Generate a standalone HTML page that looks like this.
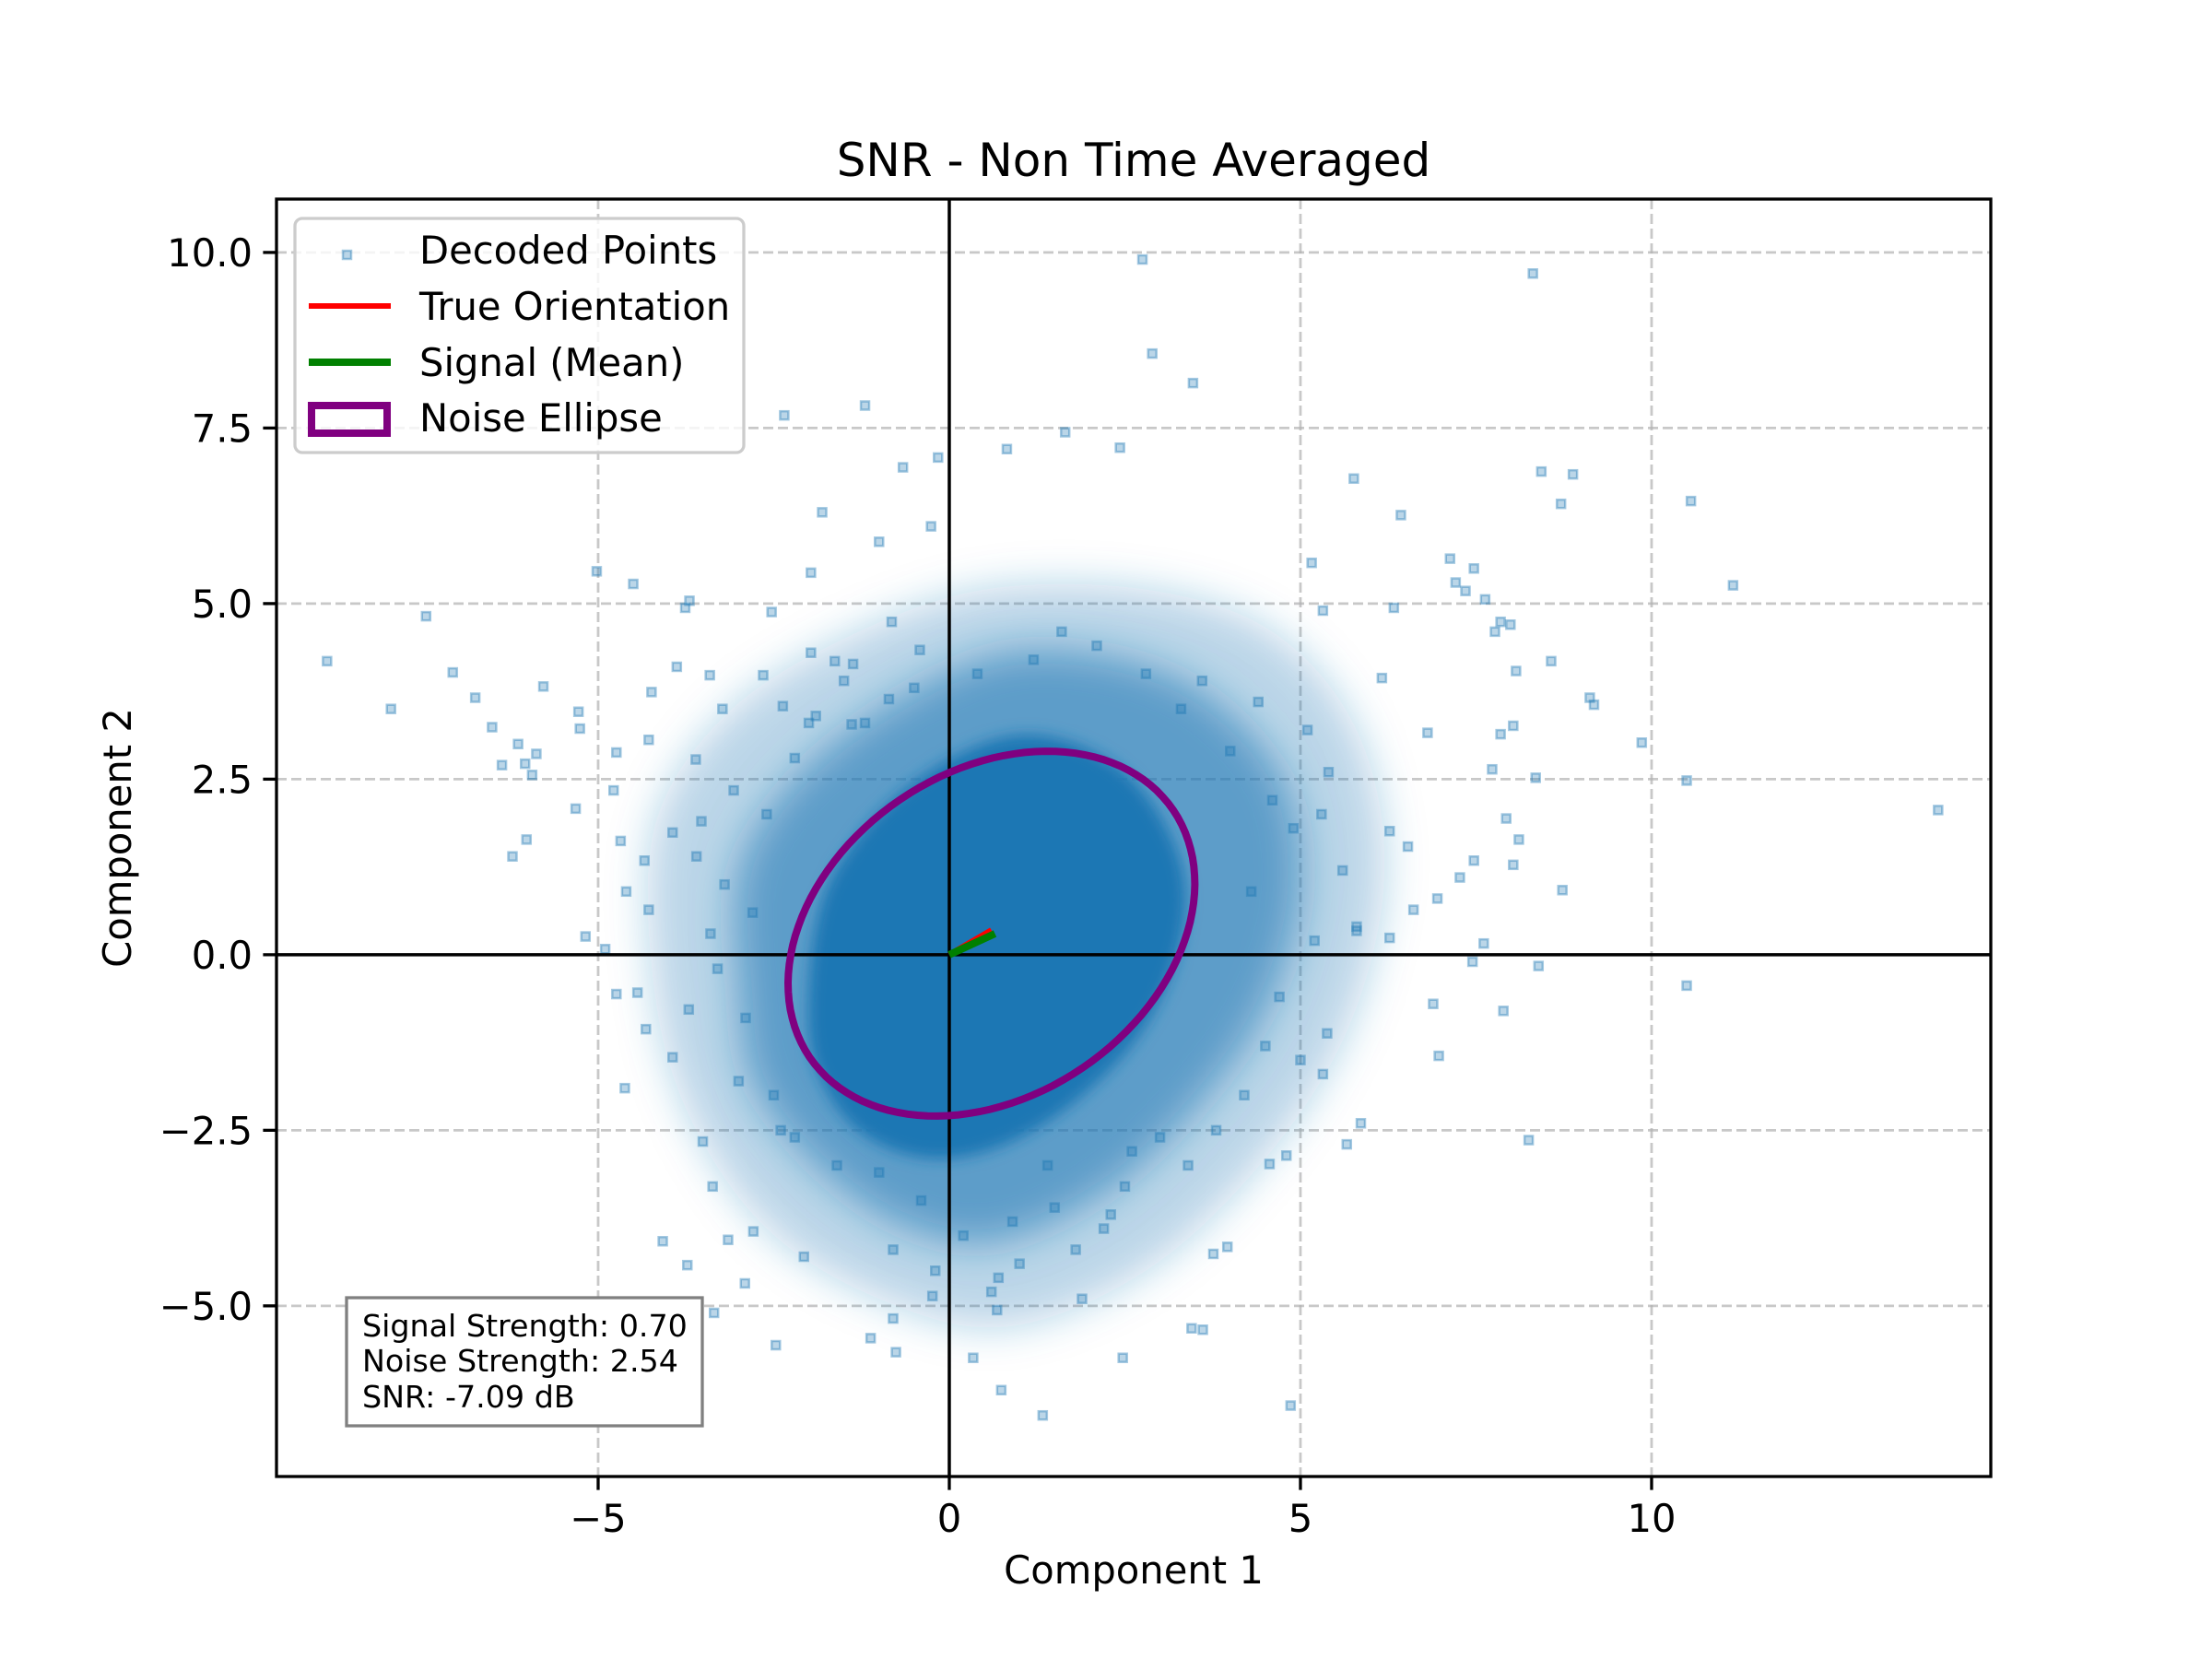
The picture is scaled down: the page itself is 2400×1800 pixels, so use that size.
<!DOCTYPE html>
<html><head><meta charset="utf-8">
<style>
html,body{margin:0;padding:0;background:#fff;}
svg{display:block;font-family:"DejaVu Sans","Liberation Sans",sans-serif;}
</style></head>
<body>
<svg id="chart" width="2400" height="1800" viewBox="0 0 2400 1800" xmlns="http://www.w3.org/2000/svg">
<rect width="2400" height="1800" fill="#fff"/>
<g id="plot"></g>
</svg>
<script>
const xTicks = [-5, 0, 5, 10];
const yTicks = [-5, -2.5, 0, 2.5, 5, 7.5, 10];
const xTickLabels = ["\u22125", "0", "5", "10"];
const yTickLabels = ["\u22125.0", "\u22122.5", "0.0", "2.5", "5.0", "7.5", "10.0"];
const xDomain = [-9.58, 14.83];
const yDomain = [-7.43, 10.76];
const outlierX = [-8.86,-7.45,-7.95,-7.07,-6.75,-6.51,-6.37,-6.14,-6.04,-5.88,-5.78,-6.02,-6.22,-5.94,-5.32,-5.28,-5.26,-5.02,-4.5,-3.76,-3.7,-2.35,-1.2,-1.81,-1.97,-2.53,-1.0,-0.66,-0.16,-0.26,2.75,8.31,2.89,3.47,0.82,1.65,2.43,8.88,8.43,8.71,10.56,11.16,5.76,6.43,7.99,8.57,9.12,9.18,9.86,10.5,14.08,8.73,8.39,10.5,8.25,7.89,7.45,6.97,5.86,5.66,4.86,1.33,0.74,2.47,3.45,-2.47,-3.35,-4.08,-4.62,-4.74,-4.9,-5.18,8.11,8.03,8.35,7.93,7.61,6.89,6.95,7.27,7.47,7.73,7.85,8.03,8.07,7.77,7.85,7.21,7.47,7.13,7.35,7.63,5.16,6.33,6.16,5.32,6.81,6.27,6.53,6.61,5.8,6.27,5.38,5.32,4.56,4.8,3.96,3.76,3.61,1.89,0.68,0.34,-0.24,-0.8,-1.12,-0.76,-2.07,-2.79,-2.91,-3.15,-3.73,-3.37,-3.51,-3.71,-3.94,-4.32,-4.44,-4.28,-4.6,-4.34,-4.68,-4.78,-4.74,-4.28,-4.24,-3.88,-3.41,-3.23,-3.61,-3.07,-3.53,-3.94,-2.65,-2.37,-1.97,-1.63,-1.37,-0.82,-0.42,-1.39,-0.86];
const outlierY = [4.18,4.82,3.5,4.02,3.66,3.24,2.7,3.0,2.72,2.86,3.82,1.64,1.4,2.56,2.08,3.46,3.22,5.46,5.28,4.94,5.04,7.68,7.82,6.3,5.44,4.88,5.88,6.94,7.08,6.1,9.9,9.7,8.56,8.14,7.2,7.44,7.22,6.84,6.88,6.42,6.46,5.26,6.78,6.26,4.7,4.18,3.66,3.56,3.02,2.48,2.06,0.92,-0.16,-0.44,-2.64,-0.8,-0.1,-1.44,-2.4,-2.7,-6.42,-6.56,-6.2,-5.74,-5.32,-5.56,-5.1,-4.08,-1.9,-0.56,0.08,0.26,1.64,1.28,2.52,1.94,0.16,-0.7,0.8,1.1,1.34,2.64,3.14,3.26,4.04,4.6,4.74,5.3,5.5,5.64,5.18,5.06,5.58,4.94,3.94,4.9,3.16,1.76,1.54,0.64,0.34,0.24,-1.12,-1.7,-2.98,-2.86,-4.16,-4.26,-5.34,-4.9,-5.06,-5.74,-4.86,-5.18,-5.46,-5.66,-4.3,-3.94,-4.68,-4.06,-4.42,-3.3,-2.66,-0.78,-1.46,-1.06,-0.54,0.64,0.9,1.34,1.62,2.34,2.88,3.06,3.74,4.1,3.98,3.5,2.78,2.34,1.9,1.74,3.98,3.54,4.3,4.18,4.14,4.74,4.34,3.28,3.64];
const ringX = [-3.2,-2.9,-3.4,-2.6,-3.0,-2.4,-3.6,-2.2,-2.8,-3.3,4.9,5.2,5.4,4.7,5.6,5.1,4.4,5.8,5.0,4.6,1.2,2.1,0.4,2.8,-0.5,1.6,3.3,-1.2,0.9,2.5,1.0,0.2,1.8,-0.4,2.6,0.6,1.4,-1.0,3.0,2.2,-2.2,-1.6,-2.5,-1.9,4.2,3.8,4.5,3.6,4.0,-0.2,0.7,1.5,-0.8,2.3,3.4,-2.0,4.3,-1.5,5.3];
const ringY = [1.0,-0.9,0.3,2.0,-1.8,-2.5,1.4,2.8,0.6,-0.2,1.8,0.2,2.6,-0.6,1.2,3.2,3.6,0.4,-1.5,2.2,4.2,4.4,4.0,4.0,3.8,4.6,3.5,3.3,-3.8,-3.3,-4.4,-4.0,-4.2,-3.5,-2.8,-4.8,-3.0,-3.1,-2.6,-3.9,-2.6,-3.0,-2.0,3.4,-2.0,-2.5,-1.3,3.9,2.9,-4.5,-4.6,-3.6,-4.2,-3.7,-3.0,3.3,0.9,3.9,2.0];
const coreX = [-2.0,-1.8,-1.2,-0.3,0.8,1.8,2.7,3.3,3.3,2.8,1.9,0.8,-0.3,-1.3,-1.9];
const coreY = [-0.5,0.8,1.8,2.6,3.1,3.0,2.4,1.3,0.2,-1.0,-2.0,-2.7,-2.9,-2.5,-1.6];
const halo1X = [-3.0,-3.0,-2.2,-0.8,0.8,2.5,3.8,4.8,5.0,4.5,3.5,2.2,0.6,-0.8,-2.0,-2.8];
const halo1Y = [-0.5,1.2,2.5,3.6,4.3,4.2,3.6,2.4,0.8,-0.8,-2.2,-3.4,-4.1,-3.8,-2.9,-1.8];
const halo2X = [-4.2,-4.2,-3.2,-1.5,0.5,2.8,4.6,5.8,6.2,5.7,4.5,2.8,0.8,-1.0,-2.6,-3.7];
const halo2Y = [-0.5,1.8,3.4,4.5,5.2,5.2,4.6,3.2,1.2,-1.0,-2.9,-4.5,-5.3,-4.9,-3.9,-2.3];
const ellipseCenter = [0.6, 0.3];
const ellipseAxes = [3.13, 2.31];
const ellipseAngleDeg = [34.2];
const trueOrientation = [0.6, 0.35];
const signalMean = [0.65, 0.3];

const L=300,R=2160,T=216,B=1602;
const sx=v=>L+(v-xDomain[0])/(xDomain[1]-xDomain[0])*(R-L);
const sy=v=>B-(v-yDomain[0])/(yDomain[1]-yDomain[0])*(B-T);
const NS="http://www.w3.org/2000/svg";
const plot=document.getElementById('plot');
function mk(tag,attrs,parent){const e=document.createElementNS(NS,tag);for(const k in attrs)e.setAttribute(k,attrs[k]);(parent||plot).appendChild(e);return e;}

const defs=mk('defs',{});
const cp=mk('clipPath',{id:'clip'},defs);
mk('rect',{x:L,y:T,width:R-L,height:B-T},cp);
const f1=mk('filter',{id:'blurA',x:'-20%',y:'-20%',width:'140%',height:'140%'},defs);
mk('feGaussianBlur',{stdDeviation:22},f1);
const f2=mk('filter',{id:'blurB',x:'-20%',y:'-20%',width:'140%',height:'140%'},defs);
mk('feGaussianBlur',{stdDeviation:8},f2);

// grid
const grid=mk('g',{});


xTicks.forEach(t=>{const l=mk('line',{x1:sx(t),x2:sx(t),y1:T,y2:B,stroke:'#b0b0b0','stroke-opacity':0.7,'stroke-width':2.8,'stroke-dasharray':'11,5'},grid);
});
yTicks.forEach(t=>{const l=mk('line',{x1:L,x2:R,y1:sy(t),y2:sy(t),stroke:'#b0b0b0','stroke-opacity':0.7,'stroke-width':2.8,'stroke-dasharray':'11,5'},grid);
});

const data=mk('g',{'clip-path':'url(#clip)'});


function smooth(xs,ys){const P=xs.map((x,i)=>[sx(x),sy(ys[i])]);const n=P.length;let d='M'+P[0][0].toFixed(1)+','+P[0][1].toFixed(1);
for(let i=0;i<n;i++){const p0=P[(i-1+n)%n],p1=P[i],p2=P[(i+1)%n],p3=P[(i+2)%n];
const c1=[p1[0]+(p2[0]-p0[0])/6,p1[1]+(p2[1]-p0[1])/6],c2=[p2[0]-(p3[0]-p1[0])/6,p2[1]-(p3[1]-p1[1])/6];
d+='C'+c1.map(v=>v.toFixed(1)).join(',')+' '+c2.map(v=>v.toFixed(1)).join(',')+' '+p2.map(v=>v.toFixed(1)).join(',');}return d+'Z';}
function blob(xs,ys,op,name,filt){const p=mk('path',{d:smooth(xs,ys),fill:'#1f77b4','fill-opacity':op,filter:'url(#'+filt+')'},data);
}
blob(halo2X,halo2Y,0.3,'density-halo-outer','blurA');
blob(halo1X,halo1Y,0.6,'density-halo-inner','blurA');
blob(coreX,coreY,1,'density-core','blurB');

const pts=mk('g',{},data);


function pt(x,y){const r=mk('rect',{x:sx(x)-4.5,y:sy(y)-4.5,width:9,height:9,fill:'#1f77b4','fill-opacity':0.3,stroke:'#1f77b4','stroke-opacity':0.4,'stroke-width':2.5},pts);
}
outlierX.forEach((x,i)=>pt(x,outlierY[i]));
ringX.forEach((x,i)=>pt(x,ringY[i]));

// zero lines
const zx=mk('line',{x1:sx(0),x2:sx(0),y1:T,y2:B,stroke:'#000','stroke-width':3.5},data);

const zy=mk('line',{x1:L,x2:R,y1:sy(0),y2:sy(0),stroke:'#000','stroke-width':3.5},data);


// ellipse
const th=ellipseAngleDeg[0]*Math.PI/180;let d='';
for(let i=0;i<=120;i++){const t=i/120*2*Math.PI;const ex=ellipseAxes[0]*Math.cos(t),ey=ellipseAxes[1]*Math.sin(t);
const X=ellipseCenter[0]+ex*Math.cos(th)-ey*Math.sin(th),Y=ellipseCenter[1]+ex*Math.sin(th)+ey*Math.cos(th);d+=(i?'L':'M')+sx(X).toFixed(1)+','+sy(Y).toFixed(1);}
const el=mk('path',{d:d+'Z',fill:'none',stroke:'#800080','stroke-width':8},data);

const tr=mk('line',{x1:sx(0),y1:sy(0),x2:sx(trueOrientation[0]),y2:sy(trueOrientation[1]),stroke:'#ff0000','stroke-width':6.3},data);

const sg=mk('line',{x1:sx(0),y1:sy(0),x2:sx(signalMean[0]),y2:sy(signalMean[1]),stroke:'#008000','stroke-width':8},data);


// spines
const sp=mk('rect',{x:L,y:T,width:R-L,height:B-T,fill:'none',stroke:'#000','stroke-width':3.3});


// ticks
xTicks.forEach((t,i)=>{const l=mk('line',{x1:sx(t),x2:sx(t),y1:B,y2:B+14.6,stroke:'#000','stroke-width':3.3});

const tx=mk('text',{x:sx(t),y:B+60,'text-anchor':'middle','font-size':41.7,fill:'#000'});tx.textContent=xTickLabels[i];
});
yTicks.forEach((t,i)=>{const l=mk('line',{x1:L-14.6,x2:L,y1:sy(t),y2:sy(t),stroke:'#000','stroke-width':3.3});

const tx=mk('text',{x:L-26,y:sy(t)+15,'text-anchor':'end','font-size':41.7,fill:'#000'});tx.textContent=yTickLabels[i];
});

const ti=mk('text',{x:(L+R)/2,y:191,'text-anchor':'middle','font-size':50,fill:'#000'});ti.textContent='SNR - Non Time Averaged';

const xl=mk('text',{x:(L+R)/2,y:1718,'text-anchor':'middle','font-size':41.7,fill:'#000'});xl.textContent='Component 1';

const yl=mk('text',{x:0,y:0,'text-anchor':'middle','font-size':41.7,fill:'#000',transform:`translate(142,${(T+B)/2}) rotate(-90)`});yl.textContent='Component 2';


// legend
const lg=mk('g',{});

mk('rect',{x:320,y:237,width:487,height:254,rx:8,fill:'#fff','fill-opacity':0.8,stroke:'#cccccc','stroke-width':3.3},lg);
const m=mk('rect',{x:372,y:272,width:9,height:9,fill:'#1f77b4','fill-opacity':0.3,stroke:'#1f77b4','stroke-opacity':0.4,'stroke-width':2.5},lg);

const l1=mk('line',{x1:335,x2:424,y1:332,y2:332,stroke:'#ff0000','stroke-width':6},lg);

const l2=mk('line',{x1:335,x2:424,y1:393,y2:393,stroke:'#008000','stroke-width':8},lg);

const l3=mk('rect',{x:338,y:440,width:82,height:30,fill:'none',stroke:'#800080','stroke-width':8},lg);

[['Decoded Points',286],['True Orientation',347],['Signal (Mean)',408],['Noise Ellipse',468]].forEach(([s,y])=>{
const t=mk('text',{x:455,y:y,'font-size':41.7,fill:'#000'},lg);t.textContent=s;
});

// text box
const tb=mk('g',{});

mk('rect',{x:376,y:1408,width:386,height:139,fill:'#fff',stroke:'#808080','stroke-width':3.3},tb);
[['Signal Strength: 0.70',1450],['Noise Strength: 2.54',1488],['SNR: -7.09 dB',1527]].forEach(([s,y])=>{
const t=mk('text',{x:393,y:y,'font-size':33.3,fill:'#000'},tb);t.textContent=s;
});
</script>
</body></html>
